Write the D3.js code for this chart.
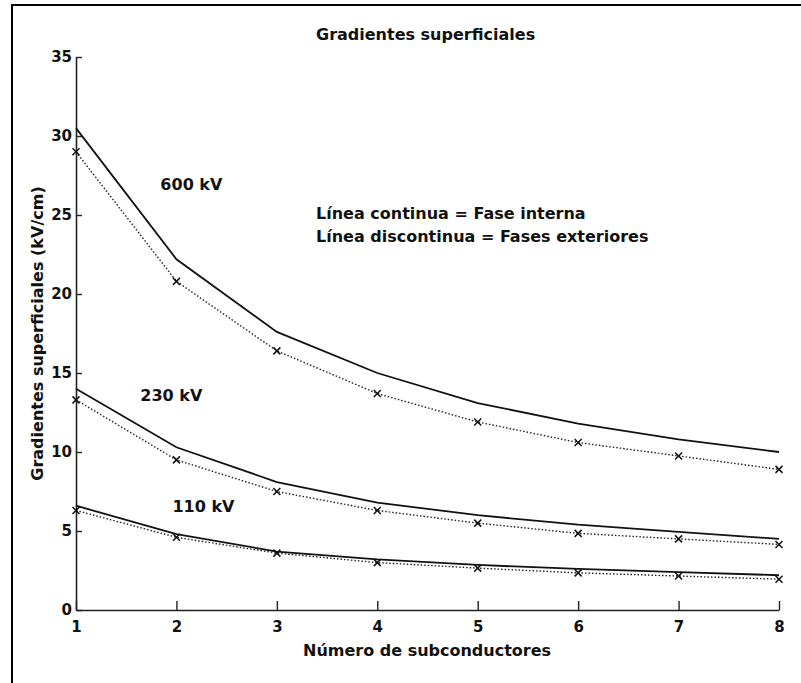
<!DOCTYPE html>
<html>
<head>
<meta charset="utf-8">
<script src="https://cdn.jsdelivr.net/npm/d3@7"></script>
<style>
  body { margin: 0; background: #fff; }
  svg text { font-family: 'DejaVu Sans', sans-serif; font-weight: bold; fill: #111; }
</style>
</head>
<body>
<div id="chart"></div>
<script>
const conductors = [1, 2, 3, 4, 5, 6, 7, 8]
const yTicks = [0, 5, 10, 15, 20, 25, 30, 35]

// solid = fase interna, dotted = fases exteriores
const interna600 = [30.5, 22.2, 17.6, 15.0, 13.1, 11.8, 10.8, 10.0]
const exterior600 = [29.0, 20.8, 16.4, 13.7, 11.9, 10.6, 9.75, 8.9]
const interna230 = [14.0, 10.3, 8.1, 6.8, 6.0, 5.4, 4.95, 4.5]
const exterior230 = [13.3, 9.5, 7.5, 6.3, 5.5, 4.85, 4.5, 4.15]
const interna110 = [6.6, 4.8, 3.7, 3.2, 2.85, 2.6, 2.4, 2.2]
const exterior110 = [6.3, 4.6, 3.6, 3.0, 2.65, 2.35, 2.15, 1.95]

const voltageLabels = [
  { text: '600 kV', x: 1.84, y: 26.6 },
  { text: '230 kV', x: 1.64, y: 13.2 },
  { text: '110 kV', x: 1.96, y: 6.2 }
]

const dims = { width: 801, height: 683 }
const margin = { top: 57, right: 22, bottom: 73, left: 76 }

const svg = d3.select('#chart')
  .append('svg')
  .attr('width', dims.width)
  .attr('height', dims.height)

// outer frame (only top/left visible in the crop)
svg.append('rect')
  .attr('x', 12)
  .attr('y', 5)
  .attr('width', dims.width + 20)
  .attr('height', dims.height + 20)
  .attr('fill', 'none')
  .attr('stroke', '#000')
  .attr('stroke-width', 2)

const x = d3.scaleLinear()
  .domain([1, 8])
  .range([margin.left, dims.width - margin.right])

const y = d3.scaleLinear()
  .domain([0, 35])
  .range([dims.height - margin.bottom, margin.top])

const xAxis = svg.append('g')
  .attr('transform', `translate(0,${y(0)})`)
  .call(d3.axisBottom(x).tickValues(conductors).tickFormat(d3.format('d'))
    .tickSize(-9).tickPadding(11).tickSizeOuter(0))

const yAxis = svg.append('g')
  .attr('transform', `translate(${x(1)},0)`)
  .call(d3.axisLeft(y).tickValues(yTicks).tickSize(-6).tickPadding(4).tickSizeOuter(0))

for (const ax of [xAxis, yAxis]) {
  ax.select('.domain').attr('stroke', '#222').attr('stroke-width', 1.6)
  ax.selectAll('.tick line').attr('stroke', '#222').attr('stroke-width', 1.4)
  ax.selectAll('.tick text').attr('font-size', 15).attr('fill', '#111')
}
xAxis.selectAll('.tick text').attr('dy', '0.75em')

const line = d3.line()
  .x((d, i) => x(conductors[i]))
  .y(d => y(d))

const solid = [interna600, interna230, interna110]
const dotted = [exterior600, exterior230, exterior110]

svg.append('g')
  .selectAll('path')
  .data(solid)
  .join('path')
  .attr('d', line)
  .attr('fill', 'none')
  .attr('stroke', '#111')
  .attr('stroke-width', 1.8)

svg.append('g')
  .selectAll('path')
  .data(dotted)
  .join('path')
  .attr('d', line)
  .attr('fill', 'none')
  .attr('stroke', '#222')
  .attr('stroke-width', 1.4)
  .attr('stroke-dasharray', '1.5,2')

const marks = dotted.flatMap(series => series.map((v, i) => ({ cx: x(conductors[i]), cy: y(v) })))
const s = 3.5
svg.append('g')
  .selectAll('path')
  .data(marks)
  .join('path')
  .attr('d', d => `M${d.cx - s},${d.cy - s}L${d.cx + s},${d.cy + s}M${d.cx - s},${d.cy + s}L${d.cx + s},${d.cy - s}`)
  .attr('stroke', '#111')
  .attr('stroke-width', 1.5)

svg.append('g')
  .selectAll('text')
  .data(voltageLabels)
  .join('text')
  .attr('x', d => x(d.x))
  .attr('y', d => y(d.y))
  .attr('font-size', 16)
  .text(d => d.text)

svg.append('text')
  .attr('x', 316)
  .attr('y', 219)
  .attr('font-size', 16)
  .text('Línea continua = Fase interna')

svg.append('text')
  .attr('x', 316)
  .attr('y', 242)
  .attr('font-size', 16)
  .text('Línea discontinua = Fases exteriores')

svg.append('text')
  .attr('x', 316)
  .attr('y', 40)
  .attr('font-size', 16)
  .text('Gradientes superficiales')

svg.append('text')
  .attr('x', 303)
  .attr('y', 656)
  .attr('font-size', 16)
  .text('Número de subconductores')

svg.append('text')
  .attr('transform', `translate(43,${(y(0) + y(35)) / 2}) rotate(-90)`)
  .attr('text-anchor', 'middle')
  .attr('font-size', 16)
  .text('Gradientes superficiales (kV/cm)')
</script>
</body>
</html>
